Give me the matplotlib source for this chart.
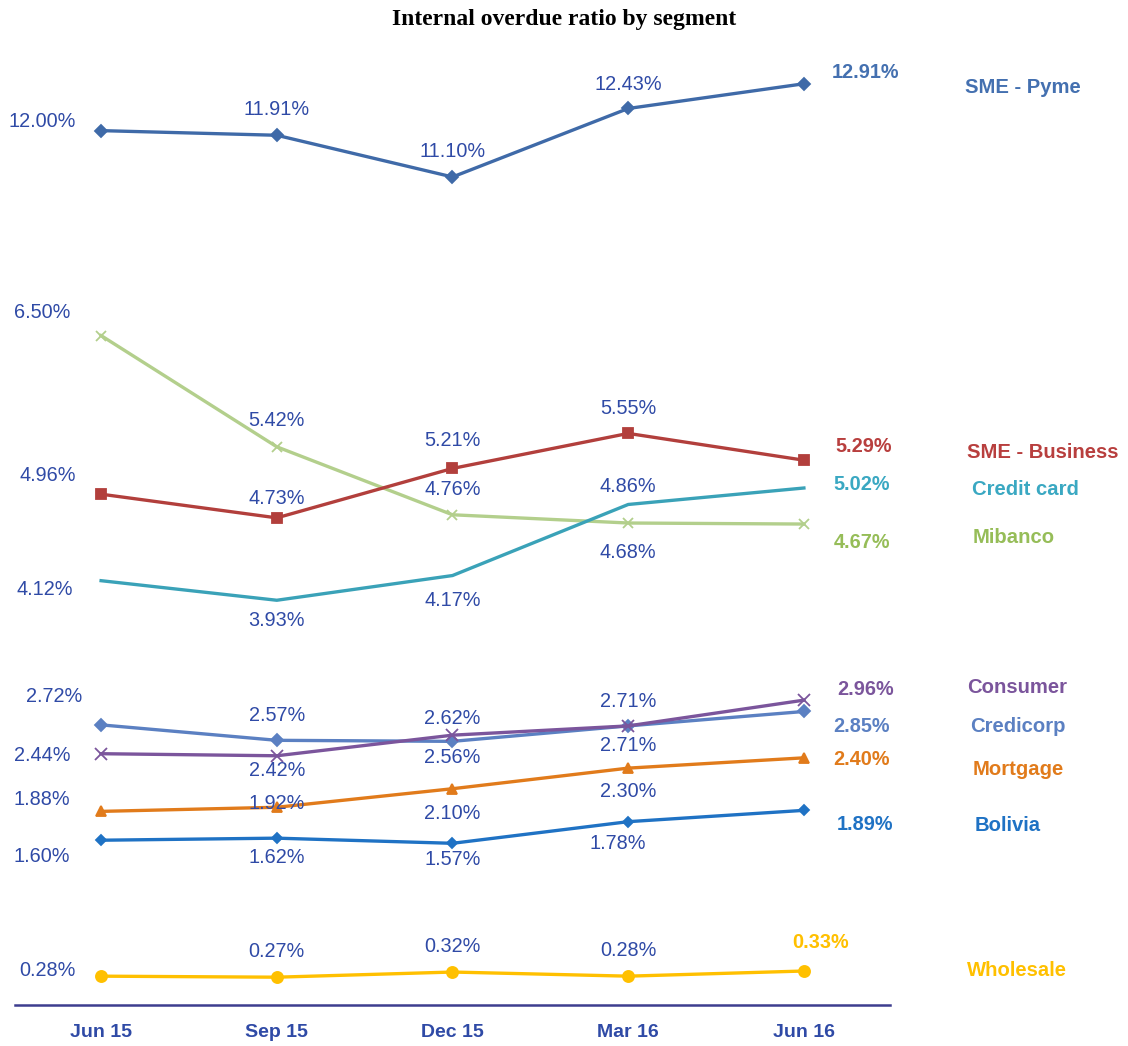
"""
Internal overdue ratio by segment - line chart with compressed upper range
"""
import matplotlib
matplotlib.use('Agg')
import matplotlib.pyplot as plt
import numpy as np

LABEL_BLUE = '#2f4aa6'
AXIS_NAVY  = '#3d3d8f'

plt.rcParams.update({
    'font.family': 'Liberation Sans',
    'font.size': 14,
})

quarters = ['Jun 15', 'Sep 15', 'Dec 15', 'Mar 16', 'Jun 16']

sme_pyme     = [12.00, 11.91, 11.10, 12.43, 12.91]
mibanco      = [6.50, 5.42, 4.76, 4.68, 4.67]
sme_business = [4.96, 4.73, 5.21, 5.55, 5.29]
credit_card  = [4.12, 3.93, 4.17, 4.86, 5.02]
credicorp    = [2.72, 2.57, 2.56, 2.71, 2.85]
consumer     = [2.44, 2.42, 2.62, 2.71, 2.96]
mortgage     = [1.88, 1.92, 2.10, 2.30, 2.40]
bolivia      = [1.60, 1.62, 1.57, 1.78, 1.89]
wholesale    = [0.28, 0.27, 0.32, 0.28, 0.33]

# name, values, line colour, text colour, marker, markersize,
# label offsets (px, image y down), name offset
series = [
    ('SME - Pyme', sme_pyme, '#3f6aa8', '#4470b0', 'D', 6,
     [(-59, -9), (0, -26), (0, -25), (0, -24), (62, -11)], (161, 4)),
    ('Mibanco', mibanco, '#b3cf8c', '#96bd58', 'x', 7,
     [(-59, -23), (0, -26), (0, -25), (0, 29), (58, 18)], (169, 13)),
    ('SME - Business', sme_business, '#b23f3c', '#b83f3e', 's', 7,
     [(-53, -19), (0, -19), (0, -28), (0, -25), (60, -14)], (163, -8)),
    ('Credit card', credit_card, '#3aa2b8', '#3aa8c2', None, 0,
     [(-56, 9), (0, 20), (0, 25), (0, -18), (58, -3)], (168, 2)),
    ('Credicorp', credicorp, '#5b80c2', '#5b80c2', 'D', 6,
     [(-47, -28), (0, -25), (0, 16), (0, 20), (58, 15)], (166, 15)),
    ('Consumer', consumer, '#7b559c', '#7b559c', 'x', 8,
     [(-59, 2), (0, 15), (0, -17), (0, -24), (62, -11)], (163, -13)),
    ('Mortgage', mortgage, '#e17b1b', '#e17b1b', '^', 7,
     [(-59, -12), (0, -4), (0, 25), (0, 23), (58, 2)], (169, 12)),
    ('Bolivia', bolivia, '#1f72c4', '#1f72c4', 'D', 5,
     [(-59, 16), (0, 19), (0, 16), (-10, 22), (61, 14)], (171, 15)),
    ('Wholesale', wholesale, '#ffc000', '#ffc000', 'o', 8,
     [(-54, -6), (0, -26), (0, -26), (0, -26), (17, -29)], (163, -1)),
]

# piecewise scale: linear up to 7%, compressed above the gap
V_KNOTS = [0.0, 7.0, 10.5, 14.0]
F_KNOTS = [0.0, 7.0, 7.74, 9.49]

def fwd(v):
    return np.interp(v, V_KNOTS, F_KNOTS)

def inv(f):
    return np.interp(f, F_KNOTS, V_KNOTS)

fig = plt.figure(figsize=(11.28, 10.46), dpi=100)
ax = fig.add_axes([15/1128, 41/1046, 875/1128, 965/1046])
ax.set_yscale('function', functions=(fwd, inv))
ax.set_ylim(0, 13.76)
ax.set_xlim(-0.49, 4.49)

x = np.arange(len(quarters))
for name, vals, col, tcol, mk, ms, offs, name_off in series:
    ax.plot(x, vals, color=col, linewidth=2.4, marker=mk, markersize=ms,
            markeredgewidth=1.3, zorder=3)
    for i, (xi, v) in enumerate(zip(x, vals)):
        last = i == len(vals) - 1
        dx, dy = offs[i]
        ax.annotate(f'{v:.2f}%', (xi, v), xytext=(dx, -dy), textcoords='offset pixels',
                    ha='center', va='center', fontsize=14.3,
                    color=tcol if last else LABEL_BLUE,
                    fontweight='bold' if last else 'normal', annotation_clip=False)
    ax.annotate(name, (x[-1], vals[-1]), xytext=(name_off[0], -name_off[1]),
                textcoords='offset pixels', ha='left', va='center', fontsize=14.6,
                color=tcol, fontweight='bold', annotation_clip=False)

for s in ['top', 'right', 'left']:
    ax.spines[s].set_visible(False)
ax.spines['bottom'].set_color(AXIS_NAVY)
ax.spines['bottom'].set_linewidth(1.8)
ax.set_yticks([])
ax.set_xticks(x)
ax.set_xticklabels(quarters, fontsize=14, fontweight='bold', color=LABEL_BLUE)
ax.tick_params(axis='x', length=0, pad=14)

fig.text(0.5, 1 - 20/1046, 'Internal overdue ratio by segment', ha='center', va='center',
         fontsize=17, fontweight='bold', family='Liberation Serif')

fig.savefig('out.png', dpi=100)
plt.close()
